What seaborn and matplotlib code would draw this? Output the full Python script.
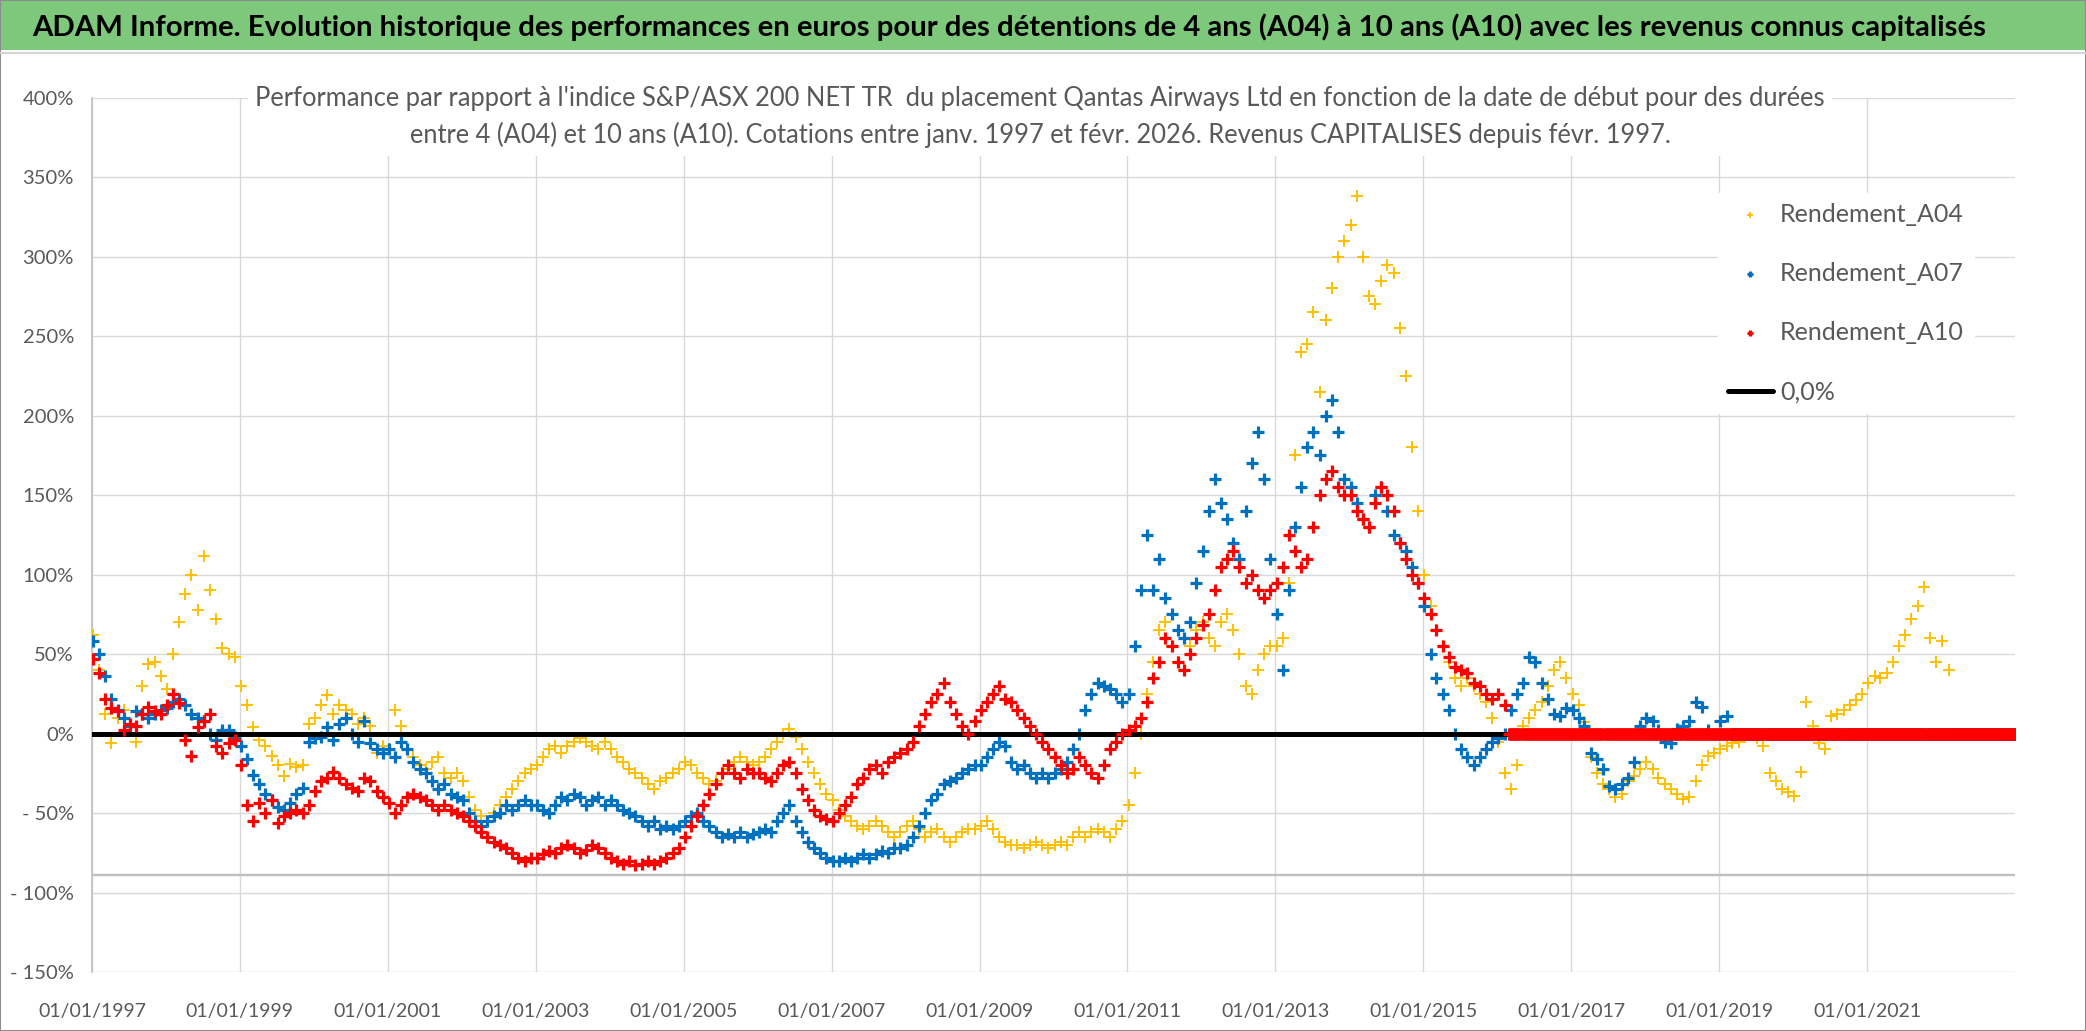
import numpy as np
import pandas as pd
import seaborn as sns
import matplotlib.pyplot as plt
from matplotlib.patches import Rectangle
from matplotlib.lines import Line2D

# performance vs index, in %, one value per month
a04 = [62, 40, 12, -6, 10, 15, 5, -5, 30, 44, 45, 36,            # 1997
       28, 50, 70, 88, 100, 78, 112, 90, 72, 54, 50, 48,         # 1998
       30, 18, 4, -4, -8, -14, -20, -27, -19, -21, -20, 6,       # 1999
       10, 18, 24, 12, 18, 15, 12, 6, 10, 5, -12, -8,            # 2000
       -10, 15, 5, -10, -15, -20, -22, -18, -15, -25, -28, -25,  # 2001
       -30, -40, -48, -52, -55, -50, -45, -40, -35, -30, -25, -22,
       -20, -15, -10, -8, -12, -8, -5, -3, -5, -8, -10, -5,
       -10, -15, -18, -22, -25, -28, -32, -35, -30, -28, -25, -22,
       -18, -20, -25, -28, -32, -30, -25, -22, -18, -15, -18, -20,
       -18, -15, -10, -5, 0, 3, -2, -10, -18, -25, -32, -38,
       -42, -48, -52, -55, -58, -60, -58, -55, -58, -62, -65, -62,
       -58, -55, -60, -65, -62, -60, -65, -68, -65, -62, -60, -60,
       -58, -55, -60, -65, -68, -70, -70, -72, -70, -68, -70, -72,
       -70, -68, -70, -65, -62, -65, -62, -60, -62, -65, -60, -55,
       -45, -25, 0, 25, 45, 65, 70, 55, 45, 40, 55, 65,          # 2011
       70, 60, 55, 70, 75, 65, 50, 30, 25, 40, 50, 55,
       55, 60, 95, 175, 240, 245, 265, 215, 260, 280, 300, 310,
       320, 338, 300, 275, 270, 285, 295, 290, 255, 225, 180, 140,
       100, 80, 65, 55, 45, 35, 30, 35, 30, 25, 20, 10,
       -5, -25, -35, -20, 5, 10, 15, 20, 30, 40, 45, 35,         # 2016
       25, 18, 7, -15, -25, -32, -35, -40, -38, -30, -27, -22,
       -18, -22, -28, -32, -35, -38, -41, -40, -30, -20, -14, -12,
       -10, -8, -6, -5, -2, 0, -3, -8, -25, -30, -35, -37,
       -39, -24, 20, 5, -6, -10, 11, 12, 15, 18, 21, 25,
       32, 36, 35, 38, 45, 55, 62, 72, 80, 92, 60, 45,
       58, 40]                                                    # 2022

a07 = [58, 50, 36, 22, 15, 10, 5, 14, 12, 10, 12, 15,             # 1997
       16, 20, 22, 18, 12, 10, 8, 0, -4, 2, 2, -2,
       -8, -16, -26, -32, -38, -42, -46, -48, -44, -38, -34, -5,
       -3, -2, 4, -4, 6, 10, 0, -5, 8, -6, -10, -12,
       -10, -15, -5, -10, -18, -22, -25, -30, -35, -32, -38, -40,
       -42, -50, -55, -58, -55, -52, -50, -45, -48, -45, -42, -45,
       -45, -48, -50, -45, -40, -42, -38, -40, -45, -42, -40, -45,
       -42, -45, -48, -50, -52, -55, -58, -55, -60, -58, -60, -58,
       -55, -52, -50, -55, -58, -62, -65, -63, -65, -62, -65, -63,
       -62, -60, -62, -55, -50, -45, -55, -62, -68, -72, -75, -78,
       -80, -80, -78, -80, -78, -76, -78, -76, -74, -75, -72, -72,
       -70, -65, -58, -50, -42, -38, -32, -30, -28, -25, -22, -20,
       -20, -15, -10, -5, -8, -18, -22, -20, -25, -28, -25, -28,
       -25, -22, -18, -10, 0, 15, 25, 32, 30, 28, 25, 20,
       25, 55, 90, 125, 90, 110, 85, 75, 65, 60, 70, 95,          # 2011
       115, 140, 160, 145, 135, 120, 110, 140, 170, 190, 160, 110,
       75, 40, 90, 130, 155, 180, 190, 175, 200, 210, 190, 160,
       155, 145, 135, 130, 150, 155, 140, 125, 120, 115, 105, 95,
       80, 50, 35, 25, 15, 0, -10, -15, -20, -15, -10, -5,
       -3, 0, 15, 25, 32, 48, 45, 32, 22, 12, 11, 16,
       15, 10, 5, -12, -16, -22, -33, -35, -32, -28, -18, 5,
       10, 8, 2, -5, -6, 3, 5, 8, 20, 17, 2, 0,
       8, 11]                                                     # 2019

a10 = [47, 38, 22, 16, 14, 2, 6, 5, 12, 17, 14, 12,               # 1997
       18, 25, 19, -4, -14, 4, 8, 12, -8, -12, -6, -4,
       -20, -45, -55, -44, -50, -42, -56, -52, -50, -48, -50, -45,
       -36, -30, -28, -24, -28, -32, -34, -36, -28, -30, -36, -40,
       -44, -50, -45, -40, -38, -40, -42, -45, -48, -45, -48, -50,
       -52, -55, -58, -62, -65, -68, -70, -72, -75, -78, -80, -78,
       -78, -76, -74, -75, -72, -70, -72, -75, -73, -70, -72, -75,
       -78, -80, -82, -80, -83, -82, -80, -82, -80, -78, -75, -72,
       -65, -58, -52, -45, -38, -32, -25, -20, -25, -28, -22, -25,
       -25, -28, -30, -25, -20, -18, -25, -35, -42, -48, -52, -54,
       -55, -50, -45, -40, -32, -28, -22, -20, -25, -18, -15, -12,
       -10, -5, 5, 12, 20, 25, 32, 20, 12, 5, 0, 8,
       15, 20, 25, 30, 22, 20, 15, 10, 5, 0, -5, -10,
       -15, -20, -25, -22, -15, -20, -25, -28, -20, -10, -5, 0,
       2, 5, 10, 20, 35, 45, 60, 55, 45, 40, 50, 60,              # 2011
       68, 75, 90, 105, 110, 115, 105, 95, 100, 90, 85, 90,
       95, 105, 125, 115, 105, 110, 130, 150, 160, 165, 155, 150,
       150, 140, 135, 130, 145, 155, 150, 140, 120, 110, 100, 95,
       85, 75, 65, 55, 48, 42, 40, 38, 32, 30, 25, 22,
       25, 18]                                                    # 2016

# after the last known start date the series are shown at 0
a04_zero_from = "2022-03-01"
a07_zero_from = "2019-03-01"
a10_zero_from = "2016-03-01"
zero_end = "2022-12-31"

zero_dates = ["1997-01-02", "2022-12-31"]
zero_vals = [0, 0]

y_ticks = [-150, -100, -50, 0, 50, 100, 150, 200, 250, 300, 350, 400]
y_labels = ["- 150%", "- 100%", "- 50%", "0%", "50%", "100%", "150%",
            "200%", "250%", "300%", "350%", "400%"]
x_ticks = ["1997-01-01", "1999-01-01", "2001-01-01", "2003-01-01", "2005-01-01",
           "2007-01-01", "2009-01-01", "2011-01-01", "2013-01-01", "2015-01-01",
           "2017-01-01", "2019-01-01", "2021-01-01"]
x_labels = ["01/01/1997", "01/01/1999", "01/01/2001", "01/01/2003", "01/01/2005",
            "01/01/2007", "01/01/2009", "01/01/2011", "01/01/2013", "01/01/2015",
            "01/01/2017", "01/01/2019", "01/01/2021"]

title = ("ADAM Informe. Evolution historique des performances en euros pour des "
         "détentions de 4 ans (A04) à 10 ans (A10) avec les revenus connus capitalisés")
subtitle = ("Performance par rapport à l'indice S&P/ASX 200 NET TR  du placement Qantas "
            "Airways Ltd en fonction de la date de début pour des durées\n"
            "entre 4 (A04) et 10 ans (A10). Cotations entre janv. 1997 et févr. 2026. "
            "Revenus CAPITALISES depuis févr. 1997.")


def series(vals, zero_from):
    d = pd.date_range("1997-01-01", periods=len(vals), freq="MS") + pd.Timedelta(days=6)
    pad = pd.date_range(zero_from, zero_end, freq="5D")
    return pd.DataFrame({"date": np.concatenate([d.values, pad.values]),
                         "val": np.concatenate([vals, np.zeros(len(pad))])})


df04 = series(a04, a04_zero_from)
df07 = series(a07, a07_zero_from)
df10 = series(a10, a10_zero_from)
dfz = pd.DataFrame({"date": pd.to_datetime(zero_dates), "val": zero_vals})

sns.set_theme(style="white")
plt.rcParams["font.family"] = ["Lato", "DejaVu Sans"]

W, H = 2086, 1031
fig = plt.figure(figsize=(W / 100, H / 100), dpi=100)
ax = fig.add_axes([92 / W, (H - 972) / H, (2015 - 92) / W, (972 - 97.7) / H])

yellow, blue, red = "#FFC000", "#0070C0", "#FF0000"
sns.scatterplot(data=df04, x="date", y="val", ax=ax, marker="+", s=80, color=yellow,
                linewidth=1.4, label="Rendement_A04", zorder=3)
sns.scatterplot(data=df07, x="date", y="val", ax=ax, marker="+", s=70, color=blue,
                linewidth=2.3, label="Rendement_A07", zorder=4)
sns.lineplot(data=dfz, x="date", y="val", ax=ax, color="black", linewidth=3.6,
             label="0,0%", zorder=5)
sns.scatterplot(data=df10, x="date", y="val", ax=ax, marker="+", s=70, color=red,
                linewidth=2.3, label="Rendement_A10", zorder=6)

ax.set_xlim(pd.Timestamp("1997-01-01"), pd.Timestamp("2023-01-01"))
ax.set_ylim(-150, 400)
ax.set_yticks(y_ticks)
ax.set_yticklabels(y_labels)
ax.set_xticks(pd.to_datetime(x_ticks))
ax.set_xticklabels(x_labels)
ax.set_xlabel("")
ax.set_ylabel("")
ax.grid(True, color="#d9d9d9", linewidth=1.0, zorder=0)
ax.set_axisbelow(True)
ax.axhline(-88.7, color="#bfbfbf", linewidth=1.7, zorder=1)
for s in ["top", "right", "bottom"]:
    ax.spines[s].set_visible(False)
ax.spines["left"].set_color("#bfbfbf")
ax.spines["left"].set_linewidth(1.2)
ax.tick_params(axis="y", length=0, pad=13, labelsize=14.5, labelcolor="#595959")
ax.tick_params(axis="x", length=0, pad=22, labelsize=14, labelcolor="#595959")

h, l = ax.get_legend_handles_labels()
order = ["Rendement_A04", "Rendement_A07", "Rendement_A10", "0,0%"]
hd = dict(zip(l, h))
leg = ax.legend([hd[k] for k in order], order, loc="upper left",
                bbox_to_anchor=(1705 / W, 1 - 180 / H), bbox_transform=fig.transFigure,
                frameon=True, facecolor="white", edgecolor="white", framealpha=1,
                fontsize=18, handlelength=1.8, handletextpad=0.3, labelspacing=1.45,
                borderpad=0.4, markerscale=0.5, fancybox=False)
for t in leg.get_texts():
    t.set_color("#595959")
leg.set_zorder(10)

# green title bar
fig.add_artist(Rectangle((0, 1 - 50 / H), 1, 50 / H, transform=fig.transFigure,
                         facecolor="#7ec87c", edgecolor="none", zorder=0))
fig.add_artist(Line2D([0, 1], [1 - 52.5 / H] * 2, transform=fig.transFigure,
                      color="#d4d4d4", linewidth=1.5))
fig.add_artist(Rectangle((0, 0), 1, 1, transform=fig.transFigure, fill=False,
                         edgecolor="#8c8c8c", linewidth=1.5))
t1 = fig.text(1009 / W, 1 - 27 / H, title, ha="center", va="center",
              fontsize=19, fontweight="bold", color="black")
t2 = fig.text(1040 / W, 1 - 117 / H, subtitle, ha="center", va="center",
              fontsize=17, color="#595959", linespacing=1.5, multialignment="center",
              bbox=dict(boxstyle="square,pad=0.3", facecolor="white", edgecolor="none"))

fig.canvas.draw()
for t, target in [(t1, 1952), (t2, 1556)]:
    w = t.get_window_extent().width
    if t is t2:
        w = w - 2 * 0.3 * t.get_fontsize() * 100 / 72
    t.set_fontsize(t.get_fontsize() * target / w)

fig.savefig("out.png", dpi=100)
